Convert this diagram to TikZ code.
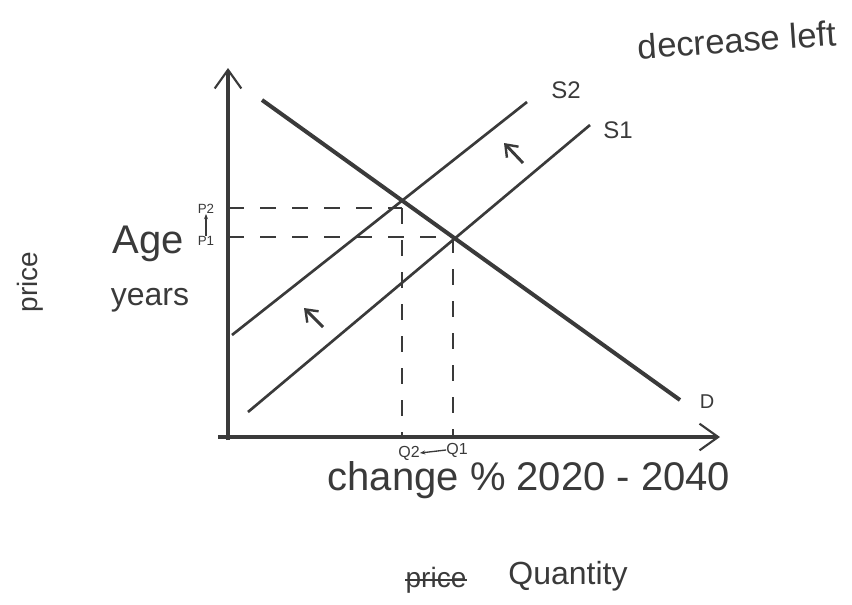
\documentclass[tikz,border=0pt]{standalone}
\usepackage{fontspec}
\setmainfont{Liberation Sans}
\usetikzlibrary{arrows.meta}
\definecolor{ink}{HTML}{3A3A3A}
\tikzset{
  axis/.style={ink, line width=2.4pt, -{Straight Barb[length=14pt,width=20pt,line width=1.6pt]}},
  curve/.style={ink, line width=2pt},
  dcurve/.style={ink, line width=3pt},
  guide/.style={ink, line width=1.3pt, dash pattern=on 12pt off 12pt},
  shiftarrow/.style={ink, line width=2.2pt, -{Straight Barb[length=8pt,width=12pt,line width=1.8pt]}},
  hand/.style={text=ink, inner sep=0pt},
}
\begin{document}
\begin{tikzpicture}[x=0.75pt,y=-0.75pt]
\useasboundingbox (0,0) rectangle (852,604);
% axes
\coordinate (ytop) at (228,68);
\coordinate (xend) at (720,437);
\coordinate (ystart) at (228,440);
\coordinate (xstart) at (218,437);
\draw[axis] (ystart) -- (ytop);
\draw[axis] (xstart) -- (xend);
% curves
\coordinate (D0) at (262,100);
\coordinate (D1) at (680,400);
\coordinate (S20) at (232,335);
\coordinate (S21) at (527,102);
\coordinate (S10) at (248,412);
\coordinate (S11) at (590,125);
\draw[dcurve] (D0) -- (D1);
\draw[curve] (S20) -- (S21);
\draw[curve] (S10) -- (S11);
% equilibria
\coordinate (E2) at (402,208);
\coordinate (E1) at (453,237);
\coordinate (P2) at (228,208);
\coordinate (P1) at (228,237);
\coordinate (Q2) at (402,437);
\coordinate (Q1) at (453,437);
\draw[guide] (P2) -- (E2);
\draw[guide] (P1) -- (E1);
\draw[guide] (E2) -- (Q2);
\draw[guide] (E1) -- (Q1);
% shift arrows
\coordinate (a1s) at (323,327);
\coordinate (a1e) at (304,308);
\coordinate (a2s) at (523,163);
\coordinate (a2e) at (504,143);
\draw[shiftarrow] (a1s) -- (a1e);
\draw[shiftarrow] (a2s) -- (a2e);
% labels
\node[hand, font=\fontsize{18}{18}\selectfont] (s2) at (566,90) {S2};
\node[hand, font=\fontsize{18}{18}\selectfont] (s1) at (618,130) {S1};
\node[hand, font=\fontsize{15}{15}\selectfont] (d) at (707,402) {D};
\node[hand, font=\fontsize{10}{10}\selectfont] (p2) at (206,209) {P2};
\node[hand, font=\fontsize{10}{10}\selectfont] (p1) at (206,241) {P1};
\draw[ink, line width=1pt, -{Stealth[length=4pt]}] (p1.north) -- (p2.south);
\node[hand, font=\fontsize{30}{30}\selectfont] (age) at (148,244) {Age};
\node[hand, font=\fontsize{24}{24}\selectfont] (years) at (150,300) {years};
\node[hand, rotate=90, font=\fontsize{21}{21}\selectfont] (price) at (30,282) {price};
\node[hand, font=\fontsize{12}{12}\selectfont] (q2) at (409,453) {Q2};
\node[hand, font=\fontsize{12}{12}\selectfont] (q1) at (457,450) {Q1};
\draw[ink, line width=1pt, -{Stealth[length=4pt]}] (q1.west) -- (q2.east);
\node[hand, font=\fontsize{30}{30}\selectfont] (chg) at (529,480) {change \% 2020 - 2040};
\node[hand, font=\fontsize{21}{21}\selectfont] (struck) at (436,580) {price};
\draw[ink, line width=1.2pt] (struck.west) -- (struck.east);
\node[hand, font=\fontsize{24}{24}\selectfont] (qty) at (568,576) {Quantity};
\node[hand, rotate=4, font=\fontsize{26}{26}\selectfont] (dec) at (737,40) {decrease left};
\end{tikzpicture}
\end{document}
